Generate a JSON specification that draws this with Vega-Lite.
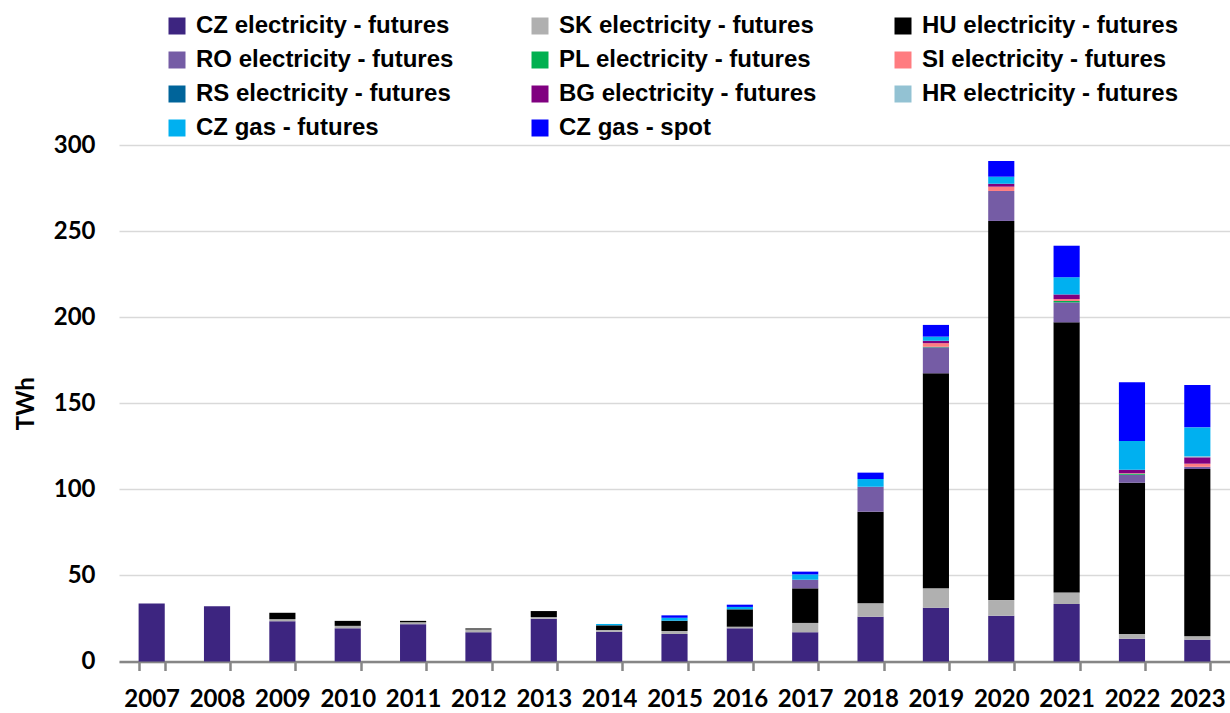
{
  "$schema": "https://vega.github.io/schema/vega-lite/v6.json",
  "autosize": {"type": "none"},
  "width": 1111,
  "height": 516.5,
  "padding": {"left": 119, "top": 145, "right": 0, "bottom": 51},
  "background": "white",
  "config": {
    "view": {"stroke": null},
    "font": "Lato"
  },
  "datasets": {
    "seriesOrder": [
      {"series": "CZ electricity - futures", "rank": 1},
      {"series": "SK electricity - futures", "rank": 2},
      {"series": "HU electricity - futures", "rank": 3},
      {"series": "RO electricity - futures", "rank": 4},
      {"series": "PL electricity - futures", "rank": 5},
      {"series": "SI electricity - futures", "rank": 6},
      {"series": "RS electricity - futures", "rank": 7},
      {"series": "BG electricity - futures", "rank": 8},
      {"series": "HR electricity - futures", "rank": 9},
      {"series": "CZ gas - futures", "rank": 10},
      {"series": "CZ gas - spot", "rank": 11}
    ],
    "volumes": [
      {"year": "2007", "series": "CZ electricity - futures", "twh": 33.7},
      {"year": "2008", "series": "CZ electricity - futures", "twh": 32.1},
      {"year": "2009", "series": "CZ electricity - futures", "twh": 23.4},
      {"year": "2009", "series": "SK electricity - futures", "twh": 1.2},
      {"year": "2009", "series": "HU electricity - futures", "twh": 3.7},
      {"year": "2010", "series": "CZ electricity - futures", "twh": 19.3},
      {"year": "2010", "series": "SK electricity - futures", "twh": 1.4},
      {"year": "2010", "series": "HU electricity - futures", "twh": 2.9},
      {"year": "2011", "series": "CZ electricity - futures", "twh": 21.7},
      {"year": "2011", "series": "SK electricity - futures", "twh": 1.1},
      {"year": "2011", "series": "HU electricity - futures", "twh": 0.8},
      {"year": "2012", "series": "CZ electricity - futures", "twh": 17.0},
      {"year": "2012", "series": "SK electricity - futures", "twh": 1.6},
      {"year": "2012", "series": "HU electricity - futures", "twh": 0.6},
      {"year": "2013", "series": "CZ electricity - futures", "twh": 24.9},
      {"year": "2013", "series": "SK electricity - futures", "twh": 0.9},
      {"year": "2013", "series": "HU electricity - futures", "twh": 3.5},
      {"year": "2014", "series": "CZ electricity - futures", "twh": 17.3},
      {"year": "2014", "series": "SK electricity - futures", "twh": 1.0},
      {"year": "2014", "series": "HU electricity - futures", "twh": 2.7},
      {"year": "2014", "series": "CZ gas - futures", "twh": 0.8},
      {"year": "2015", "series": "CZ electricity - futures", "twh": 16.0},
      {"year": "2015", "series": "SK electricity - futures", "twh": 1.7},
      {"year": "2015", "series": "HU electricity - futures", "twh": 6.0},
      {"year": "2015", "series": "CZ gas - futures", "twh": 1.7},
      {"year": "2015", "series": "CZ gas - spot", "twh": 1.4},
      {"year": "2016", "series": "CZ electricity - futures", "twh": 19.3},
      {"year": "2016", "series": "SK electricity - futures", "twh": 0.9},
      {"year": "2016", "series": "HU electricity - futures", "twh": 10.1},
      {"year": "2016", "series": "CZ gas - futures", "twh": 1.4},
      {"year": "2016", "series": "CZ gas - spot", "twh": 1.3},
      {"year": "2017", "series": "CZ electricity - futures", "twh": 17.0},
      {"year": "2017", "series": "SK electricity - futures", "twh": 5.4},
      {"year": "2017", "series": "HU electricity - futures", "twh": 20.1},
      {"year": "2017", "series": "RO electricity - futures", "twh": 5.0},
      {"year": "2017", "series": "CZ gas - futures", "twh": 3.1},
      {"year": "2017", "series": "CZ gas - spot", "twh": 1.6},
      {"year": "2018", "series": "CZ electricity - futures", "twh": 26.0},
      {"year": "2018", "series": "SK electricity - futures", "twh": 7.8},
      {"year": "2018", "series": "HU electricity - futures", "twh": 53.2},
      {"year": "2018", "series": "RO electricity - futures", "twh": 14.5},
      {"year": "2018", "series": "CZ gas - futures", "twh": 4.5},
      {"year": "2018", "series": "CZ gas - spot", "twh": 3.7},
      {"year": "2019", "series": "CZ electricity - futures", "twh": 31.2},
      {"year": "2019", "series": "SK electricity - futures", "twh": 11.4},
      {"year": "2019", "series": "HU electricity - futures", "twh": 124.8},
      {"year": "2019", "series": "RO electricity - futures", "twh": 15.1},
      {"year": "2019", "series": "PL electricity - futures", "twh": 0.3},
      {"year": "2019", "series": "SI electricity - futures", "twh": 2.1},
      {"year": "2019", "series": "BG electricity - futures", "twh": 1.4},
      {"year": "2019", "series": "CZ gas - futures", "twh": 2.4},
      {"year": "2019", "series": "CZ gas - spot", "twh": 6.8},
      {"year": "2020", "series": "CZ electricity - futures", "twh": 26.6},
      {"year": "2020", "series": "SK electricity - futures", "twh": 9.1},
      {"year": "2020", "series": "HU electricity - futures", "twh": 220.2},
      {"year": "2020", "series": "RO electricity - futures", "twh": 17.4},
      {"year": "2020", "series": "SI electricity - futures", "twh": 2.5},
      {"year": "2020", "series": "BG electricity - futures", "twh": 1.7},
      {"year": "2020", "series": "CZ gas - futures", "twh": 4.1},
      {"year": "2020", "series": "CZ gas - spot", "twh": 9.1},
      {"year": "2021", "series": "CZ electricity - futures", "twh": 33.4},
      {"year": "2021", "series": "SK electricity - futures", "twh": 6.7},
      {"year": "2021", "series": "HU electricity - futures", "twh": 156.9},
      {"year": "2021", "series": "RO electricity - futures", "twh": 11.6},
      {"year": "2021", "series": "PL electricity - futures", "twh": 0.8},
      {"year": "2021", "series": "SI electricity - futures", "twh": 1.1},
      {"year": "2021", "series": "BG electricity - futures", "twh": 2.7},
      {"year": "2021", "series": "CZ gas - futures", "twh": 10.0},
      {"year": "2021", "series": "CZ gas - spot", "twh": 18.3},
      {"year": "2022", "series": "CZ electricity - futures", "twh": 13.2},
      {"year": "2022", "series": "SK electricity - futures", "twh": 2.8},
      {"year": "2022", "series": "HU electricity - futures", "twh": 87.8},
      {"year": "2022", "series": "RO electricity - futures", "twh": 4.7},
      {"year": "2022", "series": "PL electricity - futures", "twh": 0.5},
      {"year": "2022", "series": "SI electricity - futures", "twh": 0.3},
      {"year": "2022", "series": "BG electricity - futures", "twh": 2.1},
      {"year": "2022", "series": "CZ gas - futures", "twh": 16.7},
      {"year": "2022", "series": "CZ gas - spot", "twh": 34.1},
      {"year": "2023", "series": "CZ electricity - futures", "twh": 12.7},
      {"year": "2023", "series": "SK electricity - futures", "twh": 1.9},
      {"year": "2023", "series": "HU electricity - futures", "twh": 97.2},
      {"year": "2023", "series": "RO electricity - futures", "twh": 1.3},
      {"year": "2023", "series": "SI electricity - futures", "twh": 1.8},
      {"year": "2023", "series": "BG electricity - futures", "twh": 3.7},
      {"year": "2023", "series": "HR electricity - futures", "twh": 0.6},
      {"year": "2023", "series": "CZ gas - futures", "twh": 16.8},
      {"year": "2023", "series": "CZ gas - spot", "twh": 24.6}
    ]
  },
  "data": {"name": "volumes"},
  "transform": [
    {
      "lookup": "series",
      "from": {"data": {"name": "seriesOrder"}, "key": "series", "fields": ["rank"]}
    }
  ],
  "mark": {"type": "bar", "stroke": null},
  "encoding": {
    "x": {
      "field": "year",
      "type": "ordinal",
      "scale": {"paddingInner": 0.6, "paddingOuter": 0.3},
      "axis": {
        "title": null,
        "labelAngle": 0,
        "labelFont": "Lato",
        "labelFontWeight": "bold",
        "labelFontSize": 24,
        "labelColor": "black",
        "labelPadding": 17,
        "domainColor": "#868686",
        "domainWidth": 2.5,
        "tickColor": "#868686",
        "tickWidth": 2.5,
        "tickSize": 9,
        "tickBand": "extent",
        "grid": false
      }
    },
    "y": {
      "field": "twh",
      "type": "quantitative",
      "stack": "zero",
      "scale": {"domain": [0, 300], "nice": false},
      "axis": {
        "title": "TWh",
        "titleFont": "Lato",
        "titleFontWeight": "bold",
        "titleFontSize": 24,
        "titleColor": "black",
        "titlePadding": 15,
        "values": [0, 50, 100, 150, 200, 250, 300],
        "labelFont": "Lato",
        "labelFontWeight": "bold",
        "labelFontSize": 24,
        "labelColor": "black",
        "labelPadding": 24,
        "domain": false,
        "ticks": false,
        "grid": true,
        "gridColor": "#d9d9d9",
        "gridWidth": 1.5
      }
    },
    "color": {
      "field": "series",
      "type": "nominal",
      "scale": {
        "domain": [
          "CZ electricity - futures",
          "SK electricity - futures",
          "HU electricity - futures",
          "RO electricity - futures",
          "PL electricity - futures",
          "SI electricity - futures",
          "RS electricity - futures",
          "BG electricity - futures",
          "HR electricity - futures",
          "CZ gas - futures",
          "CZ gas - spot"
        ],
        "range": [
          "#3d2580",
          "#b0b0b0",
          "#000000",
          "#755ca5",
          "#00b050",
          "#ff7c80",
          "#00649a",
          "#800080",
          "#93c2d3",
          "#00b0f0",
          "#0000ff"
        ]
      },
      "legend": {
        "title": null,
        "orient": "none",
        "legendX": 46,
        "legendY": -131,
        "direction": "horizontal",
        "columns": 3,
        "gridAlign": "all",
        "columnPadding": 74,
        "rowPadding": 10,
        "padding": 0,
        "symbolType": "square",
        "symbolSize": 289,
        "symbolStrokeWidth": 0,
        "symbolOpacity": 1,
        "labelOffset": 7,
        "labelFont": "Liberation Sans",
        "labelFontWeight": "bold",
        "labelFontSize": 24,
        "labelColor": "black",
        "labelLimit": 400
      }
    },
    "order": {"field": "rank", "type": "quantitative", "sort": "ascending"}
  }
}
